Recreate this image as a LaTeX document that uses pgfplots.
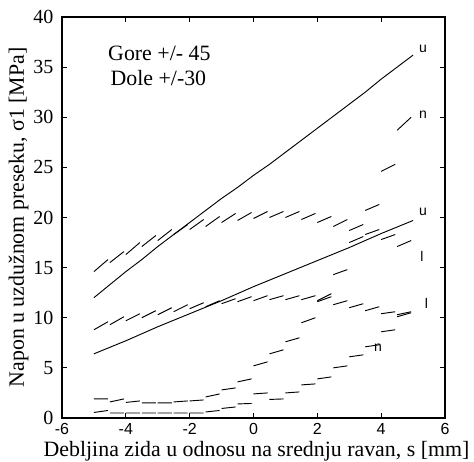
\documentclass[border=0pt]{standalone}
\usepackage{fontspec}
\setmainfont{Liberation Serif}
\setsansfont{Liberation Sans}
\usepackage{pgfplots}
\pgfplotsset{compat=1.18}

\begin{document}
\begin{tikzpicture}
\begin{axis}[
    name=ax, at={(0,0)}, anchor=south west,
    scale only axis, width=287.25pt, height=300.75pt,
    xmin=-6, xmax=6, ymin=0, ymax=40,
    xtick={-6,-4,...,6}, xticklabels={-6,-4,-2,0,2,4,6},
    ytick={0,5,...,40}, yticklabels={0,5,10,15,20,25,30,35,40},
    xticklabel style={font=\sffamily\fontsize{12}{12}\selectfont, anchor=base, yshift=-12.75pt},
    yticklabel style={font=\fontsize{15}{15}\selectfont, anchor=east, xshift=-3pt},
    tick align=inside, major tick length=4pt,
    every tick/.style={black, line width=0.7pt},
    axis line style={line width=0.9pt},
    every axis x label/.style={at={(axis description cs:0.5,0)}, anchor=base, yshift=-29.25pt, xshift=2.25pt, font=\fontsize{16.4}{16.4}\selectfont},
    every axis y label/.style={at={(axis description cs:-0.1135,0.5)}, rotate=90, anchor=center, font=\fontsize{16.4}{16.4}\selectfont},
    xlabel={Debljina zida u odnosu na srednju ravan, s [mm]},
    ylabel={Napon u uzdužnom preseku, σ1 [MPa]},
    unbounded coords=jump,
    crta/.style={black, line width=0.7pt, mark=none},
]
% gornja puna linija (u)
\addplot[crta] coordinates {
 (-5,12.0) (-4.5,13.3) (-4,14.6) (-3.5,15.8) (-3,17.1) (-2.5,18.3) (-2,19.5)
 (-1.5,20.7) (-1,21.9) (-0.5,23.0) (0,24.2) (0.5,25.3) (1,26.5) (1.5,27.7)
 (2,28.9) (2.5,30.1) (3,31.3) (3.5,32.5) (4,33.8) (4.5,35.0) (5,36.2)
};
% donja puna linija (u)
\addplot[crta] coordinates {
 (-5,6.4) (-4,7.7) (-3,9.1) (-2,10.4) (-1,11.7) (0,13.1) (1,14.4)
 (2,15.7) (3,17.0) (4,18.4) (5,19.7)
};
% l (gornja isprekidana)
\addplot[crta] coordinates {
 (-5,14.6) (-4.56,15.8) (nan,nan) (-4.5,15.5) (-4.06,16.6) (nan,nan)
 (-4,16.3) (-3.56,17.5) (nan,nan) (-3.5,17.1) (-3.06,18.2) (nan,nan)
 (-3,17.7) (-2.56,18.8) (nan,nan) (-2.5,18.3) (-2.06,19.3) (nan,nan)
 (-2,18.8) (-1.56,19.8) (nan,nan) (-1.5,19.1) (-1.06,20.1) (nan,nan)
 (-1,19.5) (-0.56,20.4) (nan,nan) (-0.5,19.7) (-0.06,20.5) (nan,nan)
 (0,19.9) (0.44,20.6) (nan,nan) (0.5,20.0) (0.94,20.6) (nan,nan)
 (1,20.0) (1.44,20.6) (nan,nan) (1.5,19.8) (1.94,20.4) (nan,nan)
 (2,19.5) (2.44,20.1) (nan,nan) (2.5,19.1) (2.94,19.8) (nan,nan)
 (3,18.7) (3.44,19.3) (nan,nan) (3.5,18.3) (3.94,18.8) (nan,nan)
 (4,17.8) (4.44,18.3) (nan,nan) (4.5,17.1) (4.94,17.7)
};
% l (donja isprekidana)
\addplot[crta] coordinates {
 (-5,8.8) (-4.56,9.6) (nan,nan) (-4.5,9.3) (-4.06,10.1) (nan,nan)
 (-4,9.7) (-3.56,10.4) (nan,nan) (-3.5,10.0) (-3.06,10.7) (nan,nan)
 (-3,10.3) (-2.56,11.0) (nan,nan) (-2.5,10.6) (-2.06,11.3) (nan,nan)
 (-2,10.9) (-1.56,11.5) (nan,nan) (-1.5,11.1) (-1.06,11.7) (nan,nan)
 (-1,11.4) (-0.56,11.9) (nan,nan) (-0.5,11.6) (-0.06,12.1) (nan,nan)
 (0,11.7) (0.44,12.2) (nan,nan) (0.5,11.8) (0.94,12.2) (nan,nan)
 (1,11.8) (1.44,12.2) (nan,nan) (1.5,11.8) (1.94,12.2) (nan,nan)
 (2,11.6) (2.44,12.1) (nan,nan) (2.5,11.3) (2.94,11.7) (nan,nan)
 (3,11.0) (3.44,11.4) (nan,nan) (3.5,10.7) (3.94,11.1) (nan,nan)
 (4,10.4) (4.44,10.6) (nan,nan) (4.5,10.3) (4.94,10.6)
};
% n (gornja isprekidana)
\addplot[crta] coordinates {
 (-5,1.9) (-4.56,1.9) (nan,nan) (-4.5,1.6) (-4.06,1.9) (nan,nan)
 (-4,1.55) (-3.56,1.7) (nan,nan) (-3.5,1.5) (-3.06,1.5) (nan,nan)
 (-3,1.5) (-2.56,1.5) (nan,nan) (-2.5,1.6) (-2.06,1.7) (nan,nan)
 (-2,1.7) (-1.56,1.8) (nan,nan) (-1.5,2.1) (-1.06,2.4) (nan,nan)
 (-1,2.8) (-0.56,3.0) (nan,nan) (-0.5,3.6) (-0.06,3.9) (nan,nan)
 (0,5.2) (0.44,5.6) (nan,nan) (0.5,6.4) (0.94,6.8) (nan,nan)
 (1,7.6) (1.44,8.0) (nan,nan) (1.5,9.5) (1.94,10.0) (nan,nan)
 (2,11.7) (2.44,12.4) (nan,nan) (2.5,14.3) (2.94,14.8) (nan,nan)
 (3,17.5) (3.44,18.1) (nan,nan) (3.5,20.7) (3.94,21.3) (nan,nan)
 (4,24.6) (4.44,25.3) (nan,nan) (4.5,28.7) (4.94,30.0)
};
% n (donja isprekidana)
\addplot[crta] coordinates {
 (-5,0.55) (-4.56,0.75) (nan,nan) (-4.5,0.5) (-4.06,0.5) (nan,nan)
 (-4,0.5) (-3.56,0.5) (nan,nan) (-3.5,0.5) (-3.06,0.5) (nan,nan)
 (-3,0.5) (-2.56,0.5) (nan,nan) (-2.5,0.5) (-2.06,0.5) (nan,nan)
 (-2,0.5) (-1.56,0.5) (nan,nan) (-1.5,0.6) (-1.06,0.75) (nan,nan)
 (-1,0.95) (-0.56,1.1) (nan,nan) (-0.5,1.4) (-0.06,1.45) (nan,nan)
 (0,2.4) (0.44,2.5) (nan,nan) (0.5,1.85) (0.94,1.9) (nan,nan)
 (1,2.5) (1.44,2.6) (nan,nan) (1.5,3.3) (1.94,3.4) (nan,nan)
 (2,3.9) (2.44,4.1) (nan,nan) (2.5,5.0) (2.94,5.2) (nan,nan)
 (3,6.1) (3.44,6.3) (nan,nan) (3.5,7.1) (3.94,7.3) (nan,nan)
 (4,8.6) (4.44,8.8) (nan,nan) (4.5,10.1) (4.94,10.5)
};
\node[font=\fontsize{16.4}{16.4}\selectfont] at (axis cs:-2.95,36.4) {Gore +/- 45};
\node[font=\fontsize{16.4}{16.4}\selectfont] at (axis cs:-2.98,33.9) {Dole +/-30};
\begin{scope}[every node/.style={font=\sffamily\fontsize{10.5}{10.5}\selectfont, inner sep=0pt}]
\node at (axis cs:5.31,36.8) {u};
\node at (axis cs:5.31,30.3) {n};
\node at (axis cs:5.31,20.6) {u};
\node at (axis cs:5.28,16.15) {l};
\node at (axis cs:5.42,11.4) {l};
\node at (axis cs:3.9,7.0) {n};
\end{scope}
\end{axis}
\pgfresetboundingbox
\path[use as bounding box] ([xshift=-46.5pt,yshift=-33pt]ax.south west) rectangle ([xshift=21.75pt,yshift=12.75pt]ax.north east);
\end{tikzpicture}
\end{document}
